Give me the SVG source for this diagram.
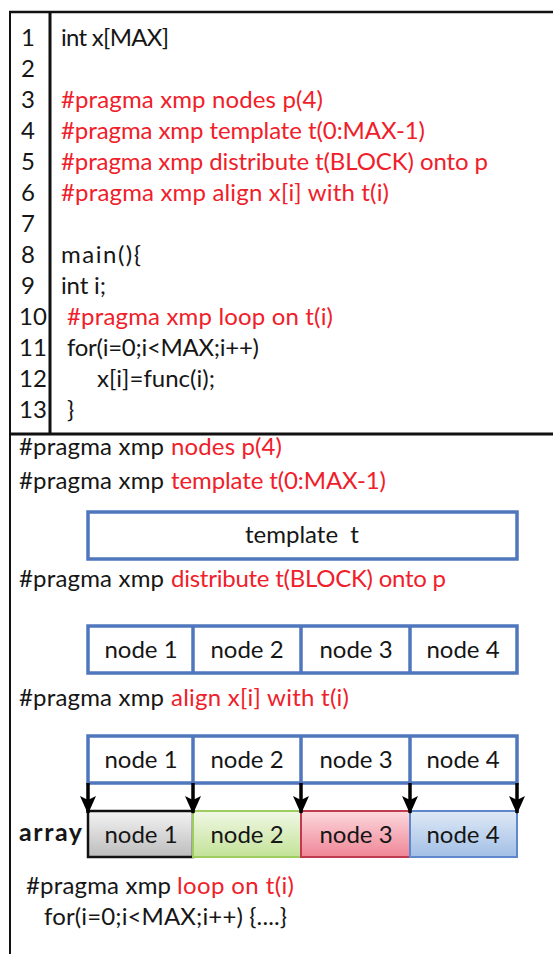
<svg xmlns="http://www.w3.org/2000/svg" width="553" height="954" viewBox="0 0 553 954">
  <style>
    text { font-family: Lato, "Noto Sans", "Liberation Sans", sans-serif; font-size: 24px; fill: #161616; }
    .red { fill: #f0202a; }
    .num { fill: #161616; }
    .bold { font-weight: bold; font-size: 25px; }
    .mid { text-anchor: middle; }
    .frame { stroke: #111; fill: none; }
    .blue { fill: #fff; stroke: #4f77be; stroke-width: 3.5; }
    .div { stroke: #4f77be; stroke-width: 3.5; }
    .arrow { stroke: #000; stroke-width: 3.5; marker-end: url(#head); }
  </style>
  <defs>
    <marker id="head" markerUnits="userSpaceOnUse" markerWidth="18" markerHeight="18" viewBox="0 0 18 18" refX="17" refY="9" orient="auto">
      <path d="M0,1 L18,9 L0,17 L4,9 z" fill="#000"/>
    </marker>
    <linearGradient id="gGrey" x1="0" y1="0" x2="0" y2="1">
      <stop offset="0" stop-color="#f4f4f4"/>
      <stop offset="1" stop-color="#bcbcbc"/>
    </linearGradient>
    <linearGradient id="gGreen" x1="0" y1="0" x2="0" y2="1">
      <stop offset="0" stop-color="#f1f8e6"/>
      <stop offset="1" stop-color="#c3e297"/>
    </linearGradient>
    <linearGradient id="gRed" x1="0" y1="0" x2="0" y2="1">
      <stop offset="0" stop-color="#fcd9de"/>
      <stop offset="1" stop-color="#ef8596"/>
    </linearGradient>
    <linearGradient id="gBlue" x1="0" y1="0" x2="0" y2="1">
      <stop offset="0" stop-color="#dfe9f6"/>
      <stop offset="1" stop-color="#a2bfe6"/>
    </linearGradient>
  </defs>

  <rect width="553" height="954" fill="#fff"/>

  <!-- outer frame and code panel rules -->
  <g id="frame">
    <line class="frame" x1="9" y1="12" x2="553" y2="12" stroke-width="2.5"/>
    <line class="frame" x1="10" y1="11" x2="10" y2="954" stroke-width="2"/>
    <line class="frame" x1="50" y1="12" x2="50" y2="434" stroke-width="3"/>
    <line class="frame" x1="9" y1="434" x2="553" y2="434" stroke-width="3"/>
  </g>

  <!-- line numbers -->
  <g id="line-numbers">
    <text class="num" x="21" y="46">1</text>
    <text class="num" x="21" y="77">2</text>
    <text class="num" x="21" y="108">3</text>
    <text class="num" x="21" y="139">4</text>
    <text class="num" x="21" y="170">5</text>
    <text class="num" x="21" y="201">6</text>
    <text class="num" x="21" y="232">7</text>
    <text class="num" x="21" y="263">8</text>
    <text class="num" x="21" y="294">9</text>
    <text class="num" x="19" y="325">10</text>
    <text class="num" x="19" y="356">11</text>
    <text class="num" x="19" y="387">12</text>
    <text class="num" x="19" y="418">13</text>
  </g>

  <!-- source listing -->
  <g id="code">
    <text x="61" y="46" textLength="108">int x[MAX]</text>
    <text class="red" x="61" y="108" textLength="262">#pragma xmp nodes p(4)</text>
    <text class="red" x="61" y="139" textLength="364">#pragma xmp template t(0:MAX-1)</text>
    <text class="red" x="61" y="170" textLength="427">#pragma xmp distribute t(BLOCK) onto p</text>
    <text class="red" x="61" y="201" textLength="328">#pragma xmp align x[i] with t(i)</text>
    <text x="61" y="263" textLength="80">main(){</text>
    <text x="61" y="294" textLength="45">int i;</text>
    <text class="red" x="67" y="325" textLength="266">#pragma xmp loop on t(i)</text>
    <text x="67" y="356" textLength="192">for(i=0;i&lt;MAX;i++)</text>
    <text x="97" y="387" textLength="118">x[i]=func(i);</text>
    <text x="67" y="418">}</text>
  </g>

  <!-- directive captions -->
  <g id="captions">
    <text x="19" y="455" textLength="145">#pragma xmp</text>
    <text class="red" x="171" y="455" textLength="111">nodes p(4)</text>
    <text x="19" y="489" textLength="145">#pragma xmp</text>
    <text class="red" x="171" y="489" textLength="215">template t(0:MAX-1)</text>
    <text x="19" y="587" textLength="145">#pragma xmp</text>
    <text class="red" x="171" y="587" textLength="275">distribute t(BLOCK) onto p</text>
    <text x="19" y="706" textLength="145">#pragma xmp</text>
    <text class="red" x="171" y="706" textLength="178">align x[i] with t(i)</text>
    <text x="26" y="894" textLength="145">#pragma xmp</text>
    <text class="red" x="177" y="894" textLength="117">loop on t(i)</text>
    <text x="44" y="925" textLength="243">for(i=0;i&lt;MAX;i++) {....}</text>
  </g>

  <!-- template t -->
  <g id="template">
    <rect class="blue" x="88" y="512" width="429" height="47"/>
    <text class="mid" x="302" y="543" xml:space="preserve">template  t</text>
  </g>

  <!-- nodes p(4) -->
  <g id="nodes-dist">
    <rect class="blue" x="88" y="626" width="429" height="47"/>
    <line class="div" x1="193" y1="626" x2="193" y2="673"/>
    <line class="div" x1="301" y1="626" x2="301" y2="673"/>
    <line class="div" x1="410" y1="626" x2="410" y2="673"/>
    <text class="mid" x="141" y="658">node 1</text>
    <text class="mid" x="247" y="658">node 2</text>
    <text class="mid" x="356" y="658">node 3</text>
    <text class="mid" x="463" y="658">node 4</text>
  </g>

  <!-- nodes above the aligned array -->
  <g id="nodes-align">
    <rect class="blue" x="88" y="736" width="429" height="47"/>
    <line class="div" x1="193" y1="736" x2="193" y2="783"/>
    <line class="div" x1="301" y1="736" x2="301" y2="783"/>
    <line class="div" x1="410" y1="736" x2="410" y2="783"/>
    <text class="mid" x="141" y="768">node 1</text>
    <text class="mid" x="247" y="768">node 2</text>
    <text class="mid" x="356" y="768">node 3</text>
    <text class="mid" x="463" y="768">node 4</text>
  </g>

  <!-- array x split into blocks -->
  <g id="array">
    <text class="bold" x="19" y="841" textLength="63">array</text>
    <rect x="88" y="811" width="105" height="46" fill="url(#gGrey)" stroke="#111" stroke-width="2.5"/>
    <rect x="193" y="811" width="108" height="46" fill="url(#gGreen)" stroke="#9dcc5f" stroke-width="2"/>
    <rect x="301" y="811" width="109" height="46" fill="url(#gRed)" stroke="#bf3a4f" stroke-width="2"/>
    <rect x="410" y="811" width="107" height="46" fill="url(#gBlue)" stroke="#5f88cc" stroke-width="2"/>
    <text class="mid" x="141" y="843">node 1</text>
    <text class="mid" x="247" y="843">node 2</text>
    <text class="mid" x="356" y="843">node 3</text>
    <text class="mid" x="463" y="843">node 4</text>
  </g>

  <!-- alignment arrows -->
  <g id="connectors">
    <line class="arrow" x1="88" y1="783" x2="88" y2="813"/>
    <line class="arrow" x1="193" y1="783" x2="193" y2="813"/>
    <line class="arrow" x1="301" y1="783" x2="301" y2="813"/>
    <line class="arrow" x1="410" y1="783" x2="410" y2="813"/>
    <line class="arrow" x1="517" y1="783" x2="517" y2="813"/>
  </g>
</svg>
